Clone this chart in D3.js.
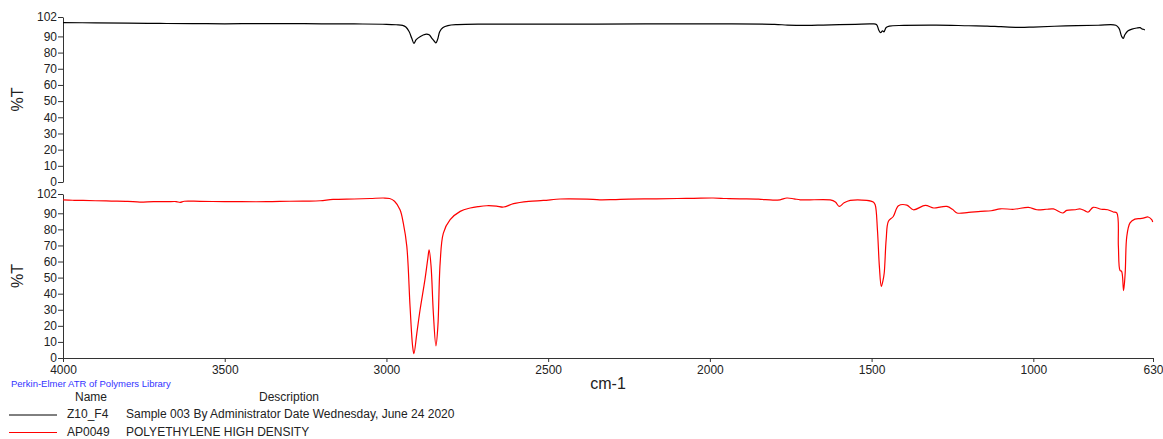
<!DOCTYPE html>
<html>
<head>
<meta charset="utf-8">
<script src="https://cdn.jsdelivr.net/npm/d3@7"></script>
<style>
  html, body { margin: 0; padding: 0; background: #fff; }
  svg { display: block; font-family: "Liberation Sans", Arial, sans-serif; }
  .axis path, .axis line { stroke: #333; }
  .axis text { fill: #222; font-size: 12px; }
</style>
</head>
<body>
<div id="chart"></div>
<script>
// x ticks (cm-1) and y ticks (%T)
const xTicks = [4000, 3500, 3000, 2500, 2000, 1500, 1000, 630];
const yTicks = [0, 10, 20, 30, 40, 50, 60, 70, 80, 90, 102];

// Z10_F4 sample spectrum [wavenumber, %T]
const sampleSpectrum = [
  [4000, 98.5], [3900, 98.4], [3800, 98.2], [3700, 98.0], [3600, 97.9], [3500, 97.8],
  [3400, 97.9], [3300, 97.9], [3200, 97.8], [3100, 97.7], [3000, 97.5], [2970, 97.2],
  [2950, 96.8], [2940, 95.8], [2930, 93], [2922, 89], [2915, 85.7], [2908, 88],
  [2895, 90], [2880, 91.3], [2868, 91], [2860, 89], [2852, 87], [2847, 86], [2842, 88],
  [2835, 93], [2825, 95.5], [2810, 96.7], [2780, 97.3], [2700, 97.6], [2500, 97.6],
  [2200, 97.7], [2000, 97.7], [1800, 97.5], [1760, 97.0], [1700, 96.8], [1650, 97.0],
  [1550, 97.5], [1500, 97.7], [1485, 97.4], [1478, 94], [1472, 92.3], [1466, 93.5],
  [1462, 92.8], [1455, 95.5], [1445, 96.4], [1400, 96.8], [1300, 97.0], [1200, 96.6],
  [1143, 96.4], [1100, 96.0], [1041, 95.6], [1000, 95.8], [900, 96.5], [800, 96.9],
  [745, 96.9], [735, 95], [727, 90], [722, 88.8], [717, 91], [707, 93.5], [695, 94.5],
  [680, 95.2], [670, 95.4], [664, 94.6], [660, 94.4], [655, 94]
];

// AP0049 library spectrum (polyethylene HD) [wavenumber, %T]
const librarySpectrum = [
  [4000, 98.3], [3970, 98.1], [3938, 98.0], [3900, 97.8], [3850, 97.6], [3800, 97.4],
  [3762, 97.0], [3720, 97.3], [3680, 97.2], [3650, 97.3], [3638, 96.8], [3625, 97.5],
  [3576, 97.4], [3500, 97.3], [3450, 97.2], [3370, 97.2], [3300, 97.5], [3250, 97.6],
  [3205, 97.8], [3165, 98.6], [3100, 98.9], [3050, 99.2], [3010, 99.5], [2990, 99.2],
  [2975, 97.5], [2958, 92.2], [2948, 84], [2937, 69.4], [2927, 32], [2919, 7.2],
  [2915, 2.7], [2906, 15.5], [2896, 30], [2881, 48.7], [2872, 62], [2868, 67.3],
  [2862, 57], [2855, 28], [2847, 7.6], [2841, 19.7], [2834, 59], [2824, 77.7],
  [2803, 86], [2772, 91.2], [2741, 93.3], [2715, 94.2], [2690, 94.7], [2660, 94.5],
  [2638, 93.9], [2607, 96], [2560, 97.4], [2515, 98], [2463, 98.9], [2432, 99],
  [2380, 98.8], [2340, 98.4], [2300, 98.5], [2250, 98.8], [2165, 99], [2100, 99.2],
  [2050, 99.3], [1990, 99.5], [1950, 99.2], [1907, 99], [1850, 98.8], [1805, 98.2],
  [1783, 98.4], [1762, 99.5], [1740, 99], [1721, 98.4], [1700, 98.3], [1628, 98.3],
  [1612, 97], [1600, 94.3], [1585, 96.5], [1566, 98], [1515, 98], [1495, 97],
  [1489, 95.3], [1482, 79.8], [1476, 57], [1470, 44.5], [1465, 48], [1461, 52.9],
  [1455, 73.6], [1448, 85], [1433, 88], [1417, 94.7], [1391, 95.1], [1371, 92.2],
  [1334, 94.9], [1308, 93.3], [1285, 94], [1267, 94.3], [1250, 92.5], [1236, 90.2],
  [1200, 90.6], [1163, 91.2], [1130, 91.6], [1102, 92.8], [1060, 92.5], [1015, 93.7],
  [989, 92.2], [960, 92.5], [938, 92.7], [909, 90.2], [897, 91.8], [870, 92.2],
  [856, 92.8], [840, 91.5], [830, 90.8], [815, 93.7], [790, 92.5], [770, 92.2],
  [753, 90.8], [742, 90.2], [737, 69.4], [732, 54.5], [727, 53.9], [721, 41.9],
  [716, 52.9], [711, 75.6], [701, 84], [686, 86.4], [670, 86.7], [660, 87],
  [645, 87.7], [634, 86], [631, 84.6]
];

const legendRows = [
  { name: 'Z10_F4', desc: 'Sample 003 By Administrator Date Wednesday, June 24 2020', color: '#000' },
  { name: 'AP0049', desc: 'POLYETHYLENE HIGH DENSITY', color: '#ff0000' }
];

const W = 1163, H = 439;
const svg = d3.select('#chart').append('svg').attr('width', W).attr('height', H);

const x = d3.scaleLinear().domain([4000, 630]).range([63, 1153]);
const yTop = d3.scaleLinear().domain([0, 102]).range([182, 17]);
const yBot = d3.scaleLinear().domain([0, 102]).range([358, 194]);

function yAxis(scale) {
  return svg.append('g').attr('class', 'axis').attr('transform', 'translate(63,0)')
    .call(d3.axisLeft(scale).tickValues(yTicks).tickSize(5).tickSizeOuter(0).tickPadding(1));
}
yAxis(yTop);
yAxis(yBot);

svg.append('g').attr('class', 'axis').attr('transform', 'translate(0,358)')
  .call(d3.axisBottom(x).tickValues(xTicks).tickFormat(d3.format('d'))
    .tickSize(4).tickSizeOuter(0).tickPadding(3));

// %T labels
[yTop, yBot].forEach(s => {
  const cy = (s.range()[0] + s.range()[1]) / 2;
  svg.append('text')
    .attr('transform', `translate(23,${cy}) rotate(-90)`)
    .attr('text-anchor', 'middle')
    .attr('font-size', '16px').attr('fill', '#222')
    .text('%T');
});

svg.append('text').attr('x', 608).attr('y', 389)
  .attr('text-anchor', 'middle').attr('font-size', '16px').attr('fill', '#222')
  .text('cm-1');

const line = yScale => d3.line().x(d => x(d[0])).y(d => yScale(d[1]))
  .curve(d3.curveCatmullRom.alpha(0.5));

svg.append('path').datum(sampleSpectrum)
  .attr('d', line(yTop)).attr('fill', 'none')
  .attr('stroke', '#000').attr('stroke-width', 1.2).attr('stroke-linejoin', 'round');

svg.append('path').datum(librarySpectrum)
  .attr('d', line(yBot)).attr('fill', 'none')
  .attr('stroke', '#ff0000').attr('stroke-width', 1.2).attr('stroke-linejoin', 'round');

// library + legend
svg.append('text').attr('x', 11).attr('y', 387)
  .attr('font-size', '9.5px').attr('fill', '#3333ff')
  .text('Perkin-Elmer ATR of Polymers Library');

svg.append('text').attr('x', 91).attr('y', 401).attr('text-anchor', 'middle')
  .attr('font-size', '12px').attr('fill', '#222').text('Name');
svg.append('text').attr('x', 289).attr('y', 401).attr('text-anchor', 'middle')
  .attr('font-size', '12px').attr('fill', '#222').text('Description');

const rows = svg.selectAll('g.leg').data(legendRows).join('g')
  .attr('class', 'leg')
  .attr('transform', (d, i) => `translate(0,${414 + i * 17.5})`);
rows.append('line').attr('x1', 9).attr('x2', 57).attr('y1', 1).attr('y2', 1)
  .attr('stroke', d => d.color).attr('stroke-width', 1);
rows.append('text').attr('x', 67).attr('y', 4).attr('font-size', '12px').attr('fill', '#222')
  .text(d => d.name);
rows.append('text').attr('x', 126).attr('y', 4).attr('font-size', '12px').attr('fill', '#222')
  .text(d => d.desc);
</script>
</body>
</html>
